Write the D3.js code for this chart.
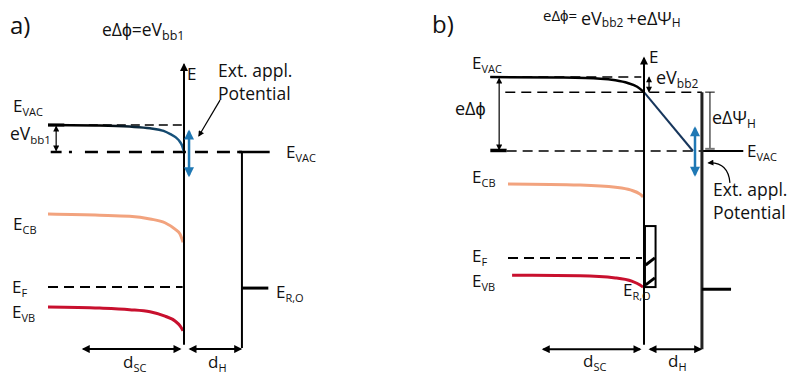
<!DOCTYPE html>
<html>
<head>
<meta charset="utf-8">
<script src="https://cdn.jsdelivr.net/npm/d3@7"></script>
<style>
  body { margin: 0; background: #fff; }
  svg { display: block; }
  text { font-family: "Open Sans", sans-serif; fill: #111; }
</style>
</head>
<body>
<svg id="fig" width="791" height="377"></svg>
<script>
// Positions: u along the junction (semiconductor surface = 0, bulk < 0, electrolyte > 0)
// Energies: eV, relative to the vacuum level on the solution side

// (a) band bending only
const evacA = [[-10, 0.5], [-6.2, 0.49], [-4, 0.47], [-2.5, 0.44], [-1.5, 0.39], [-1.0, 0.33], [-0.6, 0.27], [-0.3, 0.19], [-0.13, 0.11], [0, 0]];
const cbA   = [[-10, -1.15], [-6.2, -1.17], [-4, -1.19], [-2.5, -1.24], [-1.4, -1.31], [-0.66, -1.43], [-0.29, -1.52], [-0.07, -1.67]];
const vbA   = [[-10, -2.87], [-6.2, -2.89], [-4, -2.92], [-2.5, -2.96], [-1.4, -3.04], [-0.66, -3.13], [-0.29, -3.22], [-0.07, -3.31]];
const levelsA = { evacBulk: 0.5, evacSurf: 0, ef: -2.5, ero: -2.52 };

// (b) band bending plus a potential drop across the Helmholtz layer
const evacB  = [[-11.3, 1.37], [-6.2, 1.36], [-3.2, 1.34], [-2.1, 1.31], [-1.2, 1.26], [-0.5, 1.19], [0, 1.09]];
const dropB  = [[0, 1.09], [3.6, 0.0]];
const cbB    = [[-10, -0.61], [-4.7, -0.63], [-2.1, -0.67], [-1.0, -0.72], [-0.29, -0.8], [-0.07, -0.85]];
const vbB    = [[-9.7, -2.30], [-4.7, -2.31], [-2.1, -2.35], [-0.9, -2.41], [-0.29, -2.48], [-0.07, -2.52]];
const levelsB = { evacBulk: 1.37, evacSurf: 1.09, evacSol: 0, ef: -1.98, ero: -2.56, statesTop: -1.39, statesBottom: -2.52 };

const dH = 4.26;          // Helmholtz layer thickness
const dSC = [-7.4, -0.3]; // extent of the space-charge arrow

const svg = d3.select("#fig");
const defs = svg.append("defs");

function marker(id, color, w, h) {
  defs.append("marker")
    .attr("id", id).attr("viewBox", "0 0 10 10")
    .attr("refX", 8).attr("refY", 5)
    .attr("markerUnits", "userSpaceOnUse")
    .attr("markerWidth", w).attr("markerHeight", h)
    .attr("orient", "auto-start-reverse")
    .append("path").attr("d", "M0,0L10,5L0,10Z").attr("fill", color);
}
marker("ah", "#000", 11, 8);
marker("ahs", "#000", 7, 6);
marker("ahb", "#1f78b4", 11, 10);

const BLUE = "#1f78b4", ORANGE = "#f2a37e", RED = "#c8102e";

function lab(g, x, y, main, sub, size = 17, subSize = 11, shift = 4) {
  const t = g.append("text").attr("x", x).attr("y", y).style("font-size", size + "px");
  t.append("tspan").text(main);
  if (sub) t.append("tspan").attr("dy", shift).style("font-size", subSize + "px").text(sub);
  return t;
}

function panel(g, xs, ys) {
  const line = d3.line().x(d => xs(d[0])).y(d => ys(d[1])).curve(d3.curveMonotoneX);
  const seg = (u1, e1, u2, e2) => g.append("line")
    .attr("x1", xs(u1)).attr("y1", ys(e1)).attr("x2", xs(u2)).attr("y2", ys(e2));
  return { line, seg };
}

// ---------------- panel a ----------------
{
  const xs = d3.scaleLinear().domain([-10, 0]).range([48, 184]);
  const ys = d3.scaleLinear().domain([0, -1]).range([152, 206]);
  const g = svg.append("g");
  const { line, seg } = panel(g, xs, ys);

  g.append("text").attr("x", 10).attr("y", 34).style("font-size", "24px").text("a)");
  lab(g, 102, 36, "eΔϕ=eV", "bb1", 17.5, 12.5, 4);

  const grad = defs.append("linearGradient").attr("id", "gA")
    .attr("gradientUnits", "userSpaceOnUse")
    .attr("x1", xs(-6)).attr("x2", xs(0)).attr("y1", 0).attr("y2", 0);
  grad.append("stop").attr("offset", 0).attr("stop-color", "#000");
  grad.append("stop").attr("offset", 1).attr("stop-color", "#1a5e8e");

  // vacuum level in the bulk (dashed reference)
  seg(-7, levelsA.evacBulk, 0, levelsA.evacBulk).attr("stroke", "#000").attr("stroke-width", 1.5).attr("stroke-dasharray", "9,5");
  // vacuum level at the surface (dash-dot) and in solution
  seg(-8.46, levelsA.evacSurf, dH, levelsA.evacSurf).attr("stroke", "#000").attr("stroke-width", 2.5)
    .attr("stroke-dasharray", "3,13," + d3.range(14).map(() => "13,9").join(","));
  seg(dH - 0.35, levelsA.evacSurf, 6.3, levelsA.evacSurf).attr("stroke", "#000").attr("stroke-width", 2.5);

  g.append("path").attr("d", line(evacA)).attr("fill", "none").attr("stroke", "url(#gA)").attr("stroke-width", 2.5);

  // eV_bb1 bracket
  seg(-9.4, levelsA.evacBulk - 0.03, -9.4, levelsA.evacSurf + 0.03).attr("stroke", "#000").attr("stroke-width", 1.2)
    .attr("marker-start", "url(#ahs)").attr("marker-end", "url(#ahs)");
  seg(-9.8, levelsA.evacSurf, -9.0, levelsA.evacSurf).attr("stroke", "#000").attr("stroke-width", 2.5);
  seg(-10, levelsA.evacBulk, -8.8, levelsA.evacBulk).attr("stroke", "#000").attr("stroke-width", 3);

  // bands
  g.append("path").attr("d", line(cbA)).attr("fill", "none").attr("stroke", ORANGE).attr("stroke-width", 3);
  g.append("path").attr("d", line(vbA)).attr("fill", "none").attr("stroke", RED).attr("stroke-width", 3);
  seg(-10, levelsA.ef, -0.1, levelsA.ef).attr("stroke", "#000").attr("stroke-width", 2).attr("stroke-dasharray", "10,6");

  // energy axis at the surface
  seg(0, -3.57, 0, 1.62).attr("stroke", "#000").attr("stroke-width", 2).attr("marker-end", "url(#ah)");
  lab(g, 187, 80, "E");

  // Helmholtz plane / electrolyte
  seg(dH, levelsA.evacSurf, dH, -3.63).attr("stroke", "#000").attr("stroke-width", 2);
  seg(dH, levelsA.ero, 6.2, levelsA.ero).attr("stroke", "#000").attr("stroke-width", 3);

  // applied potential
  seg(0.37, 0.38, 0.37, -0.43).attr("stroke", BLUE).attr("stroke-width", 2.5)
    .attr("marker-start", "url(#ahb)").attr("marker-end", "url(#ahb)");
  seg(2.65, 0.96, 1.1, 0.3).attr("stroke", "#000").attr("stroke-width", 1.2).attr("marker-end", "url(#ahs)");
  lab(g, 218, 77, "Ext. appl.", null, 17.5);
  lab(g, 218, 100, "Potential", null, 17.5);

  // thickness arrows
  seg(dSC[0], -3.65, dSC[1], -3.65).attr("stroke", "#000").attr("stroke-width", 2)
    .attr("marker-start", "url(#ah)").attr("marker-end", "url(#ah)");
  seg(0.45, -3.65, dH - 0.1, -3.65).attr("stroke", "#000").attr("stroke-width", 2)
    .attr("marker-start", "url(#ah)").attr("marker-end", "url(#ah)");

  lab(g, 13, 112, "E", "VAC");
  lab(g, 10, 140, "eV", "bb1", 17.5, 11.5, 4);
  lab(g, 286, 158, "E", "VAC");
  lab(g, 13, 230, "E", "CB");
  lab(g, 12, 293, "E", "F");
  lab(g, 12, 318, "E", "VB");
  lab(g, 276, 298, "E", "R,O");
  lab(g, 123, 368, "d", "SC");
  lab(g, 208, 368, "d", "H");
}

// ---------------- panel b ----------------
{
  const xs = d3.scaleLinear().domain([-10, 0]).range([508, 644]);
  const ys = d3.scaleLinear().domain([0, -1]).range([151, 205]);
  const g = svg.append("g");
  const { line, seg } = panel(g, xs, ys);

  g.append("text").attr("x", 432).attr("y", 33).style("font-size", "24px").text("b)");
  const t = g.append("text").attr("x", 543).attr("y", 21);
  t.append("tspan").style("font-size", "15px").text("eΔϕ= ");
  t.append("tspan").attr("dy", 4).style("font-size", "18px").text("eV");
  t.append("tspan").attr("dy", 2).style("font-size", "12px").text("bb2 ");
  t.append("tspan").attr("dy", -2).style("font-size", "18px").text("+eΔΨ");
  t.append("tspan").attr("dy", 2).style("font-size", "12px").text("H");

  // reference levels
  seg(-11.3, levelsB.evacBulk, -0.2, levelsB.evacBulk).attr("stroke", "#000").attr("stroke-width", 1.5).attr("stroke-dasharray", "10,6");
  seg(-10.2, levelsB.evacSurf, dH, levelsB.evacSurf).attr("stroke", "#000").attr("stroke-width", 1.5).attr("stroke-dasharray", "10,6");
  seg(-10.1, levelsB.evacSol, dH, levelsB.evacSol).attr("stroke", "#000").attr("stroke-width", 1.5).attr("stroke-dasharray", "10,6");
  seg(dH, levelsB.evacSol, 7.3, levelsB.evacSol).attr("stroke", "#000").attr("stroke-width", 2);

  // vacuum level: bending in the semiconductor, linear drop across the Helmholtz layer
  g.append("path").attr("d", line(evacB)).attr("fill", "none").attr("stroke", "#000").attr("stroke-width", 2.5);
  g.append("path").attr("d", d3.line().x(d => xs(d[0])).y(d => ys(d[1]))(dropB))
    .attr("fill", "none").attr("stroke", "#17365c").attr("stroke-width", 2);

  // eΔϕ bracket
  seg(-10.65, levelsB.evacBulk - 0.03, -10.65, levelsB.evacSol + 0.03).attr("stroke", "#000").attr("stroke-width", 1.2)
    .attr("marker-start", "url(#ahs)").attr("marker-end", "url(#ahs)");
  seg(-11.3, levelsB.evacSol + 0.01, -10.1, levelsB.evacSol + 0.01).attr("stroke", "#000").attr("stroke-width", 3.5);

  // eV_bb2 bracket
  seg(0.37, levelsB.evacBulk - 0.01, 0.37, levelsB.evacSurf + 0.01).attr("stroke", "#000").attr("stroke-width", 1.2)
    .attr("marker-start", "url(#ahs)").attr("marker-end", "url(#ahs)");

  // eΔΨ_H bracket
  seg(4.85, levelsB.evacSurf, 4.85, levelsB.evacSol + 0.04).attr("stroke", "#000").attr("stroke-width", 1);
  seg(4.5, levelsB.evacSurf, 5.2, levelsB.evacSurf).attr("stroke", "#000").attr("stroke-width", 1);
  seg(4.5, levelsB.evacSol + 0.04, 5.2, levelsB.evacSol + 0.04).attr("stroke", "#777").attr("stroke-width", 2);

  // bands
  g.append("path").attr("d", line(cbB)).attr("fill", "none").attr("stroke", ORANGE).attr("stroke-width", 3);
  g.append("path").attr("d", line(vbB)).attr("fill", "none").attr("stroke", RED).attr("stroke-width", 3);
  seg(-10, levelsB.ef, -0.15, levelsB.ef).attr("stroke", "#000").attr("stroke-width", 2).attr("stroke-dasharray", "10,6");

  // surface states
  const bx0 = 0.07, bx1 = 0.85;
  g.append("rect").attr("x", xs(bx0)).attr("y", ys(levelsB.statesTop))
    .attr("width", xs(bx1) - xs(bx0)).attr("height", ys(levelsB.statesBottom) - ys(levelsB.statesTop))
    .attr("fill", "#fff").attr("stroke", "#000").attr("stroke-width", 2);
  [[-2.11, -1.98], [-2.48, -2.35]].forEach(([e0, e1]) =>
    seg(bx0 + 0.05, e0, bx1 - 0.05, e1).attr("stroke", "#000").attr("stroke-width", 3));

  // energy axis at the surface
  seg(0, -3.59, 0, 1.72).attr("stroke", "#000").attr("stroke-width", 2).attr("marker-end", "url(#ah)");
  lab(g, 649, 63, "E");

  // Helmholtz plane / electrolyte
  seg(dH, levelsB.evacSurf, dH, -3.67).attr("stroke", "#222").attr("stroke-width", 3);
  seg(dH, levelsB.ero, 6.4, levelsB.ero).attr("stroke", "#000").attr("stroke-width", 3);

  // applied potential
  seg(3.75, 0.42, 3.75, -0.44).attr("stroke", BLUE).attr("stroke-width", 2.5)
    .attr("marker-start", "url(#ahb)").attr("marker-end", "url(#ahb)");
  g.append("path")
    .attr("d", `M${xs(6.32)},${ys(-0.59)} Q${xs(6.2)},${ys(-0.2)} ${xs(4.75)},${ys(-0.22)}`)
    .attr("fill", "none").attr("stroke", "#000").attr("stroke-width", 1.2).attr("marker-end", "url(#ahs)");
  lab(g, 713, 196, "Ext. appl.", null, 17.5);
  lab(g, 713, 219, "Potential", null, 17.5);

  // thickness arrows
  seg(dSC[0], -3.67, dSC[1], -3.67).attr("stroke", "#000").attr("stroke-width", 2)
    .attr("marker-start", "url(#ah)").attr("marker-end", "url(#ah)");
  seg(0.45, -3.67, dH - 0.1, -3.67).attr("stroke", "#000").attr("stroke-width", 2)
    .attr("marker-start", "url(#ah)").attr("marker-end", "url(#ah)");

  lab(g, 472, 69, "E", "VAC");
  lab(g, 455, 115, "eΔϕ", null, 18);
  lab(g, 656, 84, "eV", "bb2", 18, 12, 4);
  lab(g, 712, 124, "eΔΨ", "H", 18, 12, 4);
  lab(g, 747, 157, "E", "VAC");
  lab(g, 472, 183, "E", "CB");
  lab(g, 472, 262, "E", "F");
  lab(g, 472, 287, "E", "VB");
  lab(g, 623, 296, "E", "R,O");
  lab(g, 583, 367, "d", "SC");
  lab(g, 668, 367, "d", "H");
}
</script>
</body>
</html>
